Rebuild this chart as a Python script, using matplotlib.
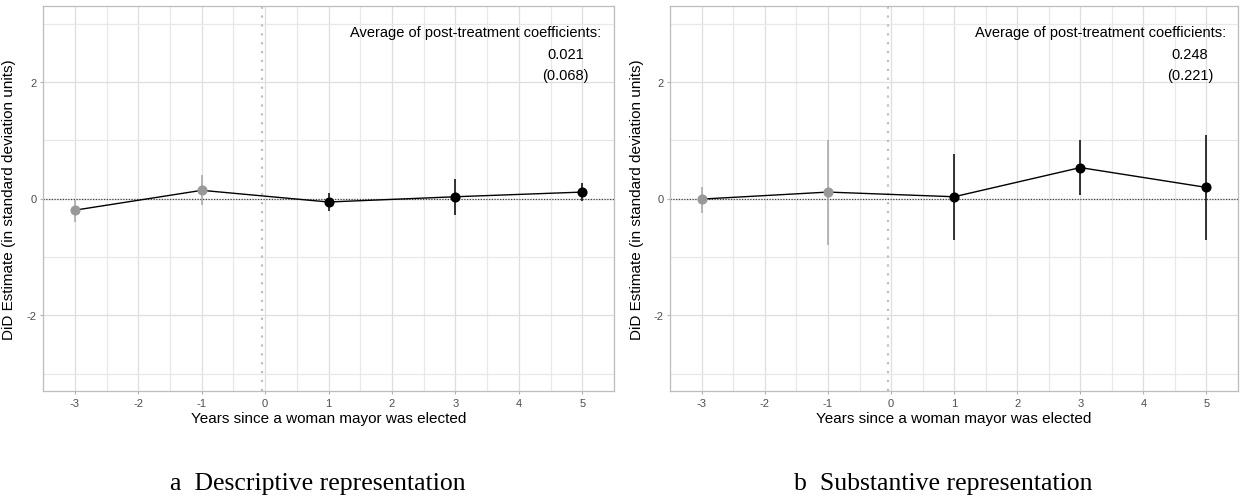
import matplotlib
matplotlib.use("Agg")
import matplotlib.pyplot as plt
import numpy as np

plt.rcParams["axes.unicode_minus"] = False

# ---- data ----
years = [-3, -1, 1, 3, 5]
pre_post = ["pre", "pre", "post", "post", "post"]

desc_est = [-0.20, 0.14, -0.06, 0.03, 0.11]
desc_lo = [-0.40, -0.11, -0.22, -0.28, -0.05]
desc_hi = [-0.03, 0.41, 0.10, 0.34, 0.26]
desc_avg = "0.021"
desc_se = "(0.068)"

subs_est = [-0.01, 0.11, 0.03, 0.53, 0.19]
subs_lo = [-0.24, -0.80, -0.71, 0.06, -0.71]
subs_hi = [0.20, 1.01, 0.77, 1.01, 1.09]
subs_avg = "0.248"
subs_se = "(0.221)"

xticks = [-3, -2, -1, 0, 1, 2, 3, 4, 5]
yticks = [-2, 0, 2]
xlabel = "Years since a woman mayor was elected"
ylabel = "DiD Estimate (in standard deviation units)"
avg_label = "Average of post-treatment coefficients:"
captions = ["a  Descriptive representation", "b  Substantive representation"]

SANS = ["Liberation Sans", "DejaVu Sans"]
SERIF = ["Liberation Serif", "DejaVu Serif"]

fig = plt.figure(figsize=(12.43, 5.02), dpi=100)
ax1 = fig.add_axes([43.2 / 1243, 1 - 392 / 502, 570.8 / 1243, 385 / 502])
ax2 = fig.add_axes([670.3 / 1243, 1 - 392 / 502, 567.7 / 1243, 385 / 502])

panels = [
    (ax1, desc_est, desc_lo, desc_hi, desc_avg, desc_se, captions[0]),
    (ax2, subs_est, subs_lo, subs_hi, subs_avg, subs_se, captions[1]),
]

grey_pt = "#999999"
grey_bar = "#A6A6A6"

for ax, est, lo, hi, avg, se, cap in panels:
    ax.set_xlim(-3.4, 5.4)
    ax.set_ylim(-3.3, 3.3)
    ax.set_xticks(xticks)
    ax.set_yticks(yticks)
    ax.set_xticks(np.arange(-3.5, 5.6, 1.0), minor=True)
    ax.set_yticks([-3, -1, 1, 3], minor=True)
    ax.grid(True, which="major", color="#DEDEDE", linewidth=0.9, zorder=0)
    ax.grid(True, which="minor", color="#E8E8E8", linewidth=0.9, zorder=0)
    ax.set_axisbelow(True)
    for s in ax.spines.values():
        s.set_color("#BDBDBD")
        s.set_linewidth(0.9)
    ax.tick_params(which="major", length=2.5, width=0.8, color="#B0B0B0",
                   labelsize=8, labelcolor="#4D4D4D", pad=2.5)
    ax.tick_params(which="minor", length=0)
    for lab in ax.get_xticklabels() + ax.get_yticklabels():
        lab.set_family(SANS)

    # reference lines
    ax.axhline(0, color="#444444", linestyle=(0, (1, 1.2)), linewidth=0.9, zorder=1)
    ax.axvline(-0.05, color="#BFBFBF", linestyle=(0, (1, 3)), linewidth=1.6, zorder=1)

    # connecting line
    ax.plot(years, est, color="black", linewidth=1.0, zorder=3)
    for x, e, l, h, pp in zip(years, est, lo, hi, pre_post):
        c_bar = grey_bar if pp == "pre" else "black"
        c_pt = grey_pt if pp == "pre" else "black"
        ax.plot([x, x], [l, h], color=c_bar, linewidth=1.1, zorder=4,
                solid_capstyle="butt")
        ax.plot([x], [e], marker="o", markersize=7.3, color=c_pt,
                markeredgewidth=0, zorder=5)

    ax.text(3.32, 2.85, avg_label, ha="center", va="center", fontsize=10.5,
            family=SANS, color="black")
    ax.text(4.74, 2.48, avg, ha="center", va="center", fontsize=10.5,
            family=SANS, color="black")
    ax.text(4.74, 2.11, se, ha="center", va="center", fontsize=10.5,
            family=SANS, color="black")

    ax.set_xlabel(xlabel, fontsize=11, family=SANS, labelpad=2)
    ax.set_ylabel(ylabel, fontsize=11, family=SANS)
    ax.yaxis.set_label_coords(-0.047, 0.5)

    bb = ax.get_position()
    fig.text((bb.x0 + bb.x1) / 2 - 0.0085, 1 - 484 / 502, cap, ha="center",
             va="center", fontsize=18.5, family=SERIF)

fig.savefig("out.png", dpi=100)
